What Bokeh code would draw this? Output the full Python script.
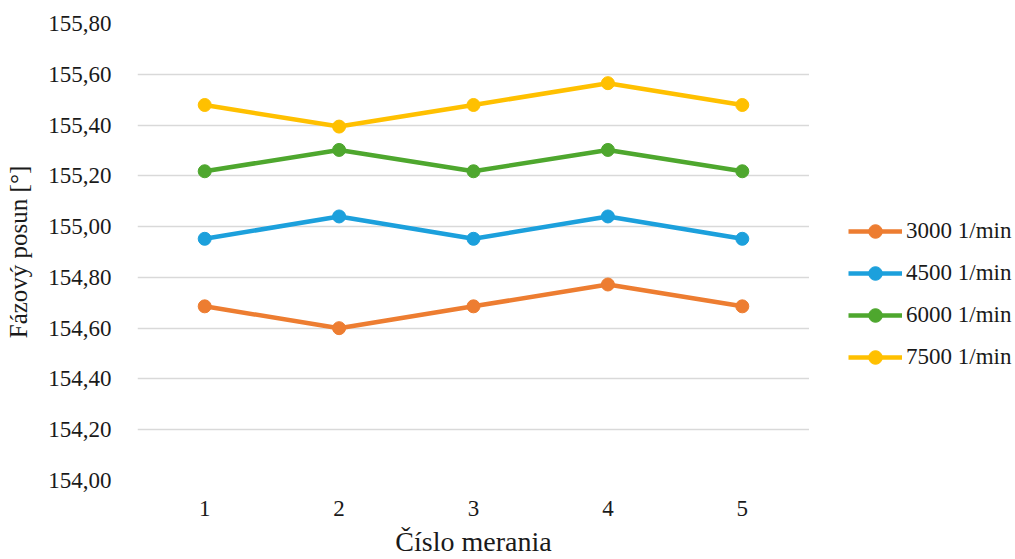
from bokeh.plotting import figure
from bokeh.layouts import row
from bokeh.models import FactorRange, Range1d, FixedTicker, CustomJSTickFormatter, Legend, LegendItem
from bokeh.embed import file_html
from bokeh.resources import INLINE

measurements = ["1", "2", "3", "4", "5"]
s3000 = [154.686, 154.600, 154.686, 154.772, 154.686]
s4500 = [154.952, 155.040, 154.952, 155.040, 154.952]
s6000 = [155.218, 155.302, 155.218, 155.302, 155.218]
s7500 = [155.479, 155.394, 155.479, 155.565, 155.479]
series_names = ["3000 1/min", "4500 1/min", "6000 1/min", "7500 1/min"]
series_values = [s3000, s4500, s6000, s7500]
colors = ["#ED7D31", "#1CA0DC", "#4EA72E", "#FFC000"]
y_ticks = [154.0, 154.2, 154.4, 154.6, 154.8, 155.0, 155.2, 155.4, 155.6, 155.8]

FONT = "'Liberation Serif', 'Times New Roman', serif"
TXT = "#1a1a1a"
LINE_W = 4.5
MARK_S = 13

# main chart
p = figure(width=809, height=559, output_backend="svg", toolbar_location=None,
           x_range=FactorRange(factors=measurements), y_range=Range1d(154.0, 155.8),
           min_border_left=137, min_border_right=0, min_border_top=23, min_border_bottom=78)
p.outline_line_color = None
p.background_fill_color = "white"
p.border_fill_color = "white"

p.xgrid.grid_line_color = None
p.ygrid.grid_line_color = "#D9D9D9"
p.ygrid.grid_line_width = 1.3
p.yaxis.ticker = FixedTicker(ticks=y_ticks)
p.yaxis.formatter = CustomJSTickFormatter(code="return tick.toFixed(2).replace('.', ',');")

for ax in (p.xaxis, p.yaxis):
    ax.axis_line_color = None
    ax.major_tick_line_color = None
    ax.minor_tick_line_color = None
    ax.major_label_text_font = FONT
    ax.major_label_text_font_size = "23px"
    ax.major_label_text_color = TXT
    ax.axis_label_text_font = FONT
    ax.axis_label_text_font_style = "normal"
    ax.axis_label_text_color = TXT

p.yaxis.major_label_standoff = 20
p.yaxis.axis_label = "Fázový posun [°]"
p.yaxis.axis_label_text_font_size = "25px"
p.yaxis.axis_label_standoff = 13

p.xaxis.major_label_standoff = 14
p.xaxis.axis_label = "Číslo merania"
p.xaxis.axis_label_text_font_size = "28px"
p.xaxis.axis_label_standoff = 7

for vals, col in zip(series_values, colors):
    p.line(measurements, vals, line_color=col, line_width=LINE_W)
    p.scatter(measurements, vals, size=MARK_S, fill_color=col, line_color=col)

# legend panel to the right of the plot area (its frame is aligned with the main frame)
q = figure(width=206, height=559, output_backend="svg", toolbar_location=None,
           x_range=Range1d(0, 1), y_range=Range1d(0, 1),
           x_axis_type=None, y_axis_type=None, min_border=0)
q.outline_line_color = None
q.xgrid.grid_line_color = None
q.ygrid.grid_line_color = None
q.background_fill_color = "white"
q.border_fill_color = "white"

xnum = [int(m) for m in measurements]
items = []
for name, vals, col in zip(series_names, series_values, colors):
    r1 = q.line(xnum, vals, line_color=col, line_width=LINE_W, visible=False)
    r2 = q.scatter(xnum, vals, size=MARK_S, fill_color=col, line_color=col, visible=False)
    items.append(LegendItem(label=name, renderers=[r1, r2]))

legend = Legend(items=items, location=(39, 106), orientation="vertical",
                glyph_width=54, glyph_height=34, label_height=34, spacing=8,
                label_standoff=4, padding=0, margin=0,
                border_line_color=None, background_fill_alpha=0,
                label_text_font=FONT, label_text_font_size="23px", label_text_color=TXT)
q.add_layout(legend, "center")

layout = row(p, q, spacing=0)
open("out.html", "w").write(file_html(layout, INLINE))
